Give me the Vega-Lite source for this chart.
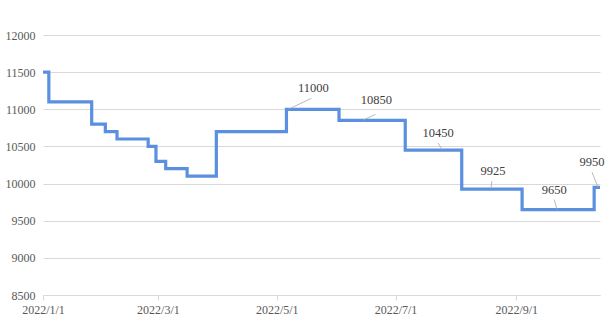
{
  "$schema": "https://vega.github.io/schema/vega-lite/v6.json",
  "width": 557,
  "height": 260,
  "autosize": "none",
  "padding": {"left": 43, "top": 35, "right": 9, "bottom": 33},
  "background": "white",
  "config": {
    "view": {"stroke": null},
    "font": "Liberation Serif",
    "text": {"font": "Liberation Serif"},
    "axis": {"labelFont": "Liberation Serif", "labelFontSize": 12, "labelColor": "#595959", "gridColor": "#d9d9d9", "domainColor": "#d9d9d9", "tickColor": "#d9d9d9", "title": null}
  },
  "datasets": {
    "price": [
      {"date": "2022-01-01", "price": 11500},
      {"date": "2022-01-04", "price": 11100},
      {"date": "2022-01-26", "price": 10800},
      {"date": "2022-02-02", "price": 10700},
      {"date": "2022-02-08", "price": 10600},
      {"date": "2022-02-24", "price": 10500},
      {"date": "2022-02-28", "price": 10300},
      {"date": "2022-03-05", "price": 10200},
      {"date": "2022-03-16", "price": 10100},
      {"date": "2022-03-31", "price": 10700},
      {"date": "2022-05-06", "price": 11000},
      {"date": "2022-06-02", "price": 10850},
      {"date": "2022-07-06", "price": 10450},
      {"date": "2022-08-04", "price": 9925},
      {"date": "2022-09-04", "price": 9650},
      {"date": "2022-10-11", "price": 9950},
      {"date": "2022-10-14", "price": 9950}
    ],
    "notes": [
      {"date": "2022-05-07", "price": 11000, "label": "11000"},
      {"date": "2022-06-14", "price": 10850, "label": "10850"},
      {"date": "2022-07-25", "price": 10450, "label": "10450"},
      {"date": "2022-08-19", "price": 9925, "label": "9925"},
      {"date": "2022-09-22", "price": 9650, "label": "9650"},
      {"date": "2022-10-13", "price": 9950, "label": "9950"}
    ]
  },
  "encoding": {
    "x": {
      "field": "date", "type": "temporal",
      "scale": {"type": "utc", "domain": [{"year": 2022, "month": 1, "date": 1, "utc": true}, {"year": 2022, "month": 10, "date": 14, "utc": true}]},
      "axis": {
        "grid": false,
        "labelExpr": "utcFormat(datum.value, '%Y/%-m/%-d')",
        "values": [
          {"year": 2022, "month": 1, "date": 1, "utc": true},
          {"year": 2022, "month": 3, "date": 1, "utc": true},
          {"year": 2022, "month": 5, "date": 1, "utc": true},
          {"year": 2022, "month": 7, "date": 1, "utc": true},
          {"year": 2022, "month": 9, "date": 1, "utc": true}
        ],
        "labelFont": "Liberation Serif", "labelFontSize": 12,
        "tickSize": 5, "labelPadding": 4, "labelFlush": false
      }
    },
    "y": {
      "field": "price", "type": "quantitative",
      "scale": {"domain": [8500, 12000], "zero": false, "nice": false},
      "axis": {"values": [8500, 9000, 9500, 10000, 10500, 11000, 11500, 12000], "format": "d", "labelFont": "Liberation Serif", "labelFontSize": 12, "domain": false, "ticks": false, "labelPadding": 8, "gridColor": "#d9d9d9"}
    }
  },
  "layer": [
    {"data": {"name": "price"}, "mark": {"type": "line", "interpolate": "step-after", "color": "#5B8FDF", "strokeWidth": 3.2}},
    {"data": {"name": "notes"}, "transform": [{"filter": "datum.label == '11000'"}], "layer": [
      {"mark": {"type": "rule", "color": "#a6a6a6", "strokeWidth": 0.8, "x2Offset": 23, "y2Offset": -11}, "encoding": {"x2": {"field": "date"}, "y2": {"field": "price"}}},
      {"mark": {"type": "text", "font": "Liberation Serif", "dx": 25, "dy": -21, "fontSize": 12.5, "color": "#404040"}, "encoding": {"text": {"field": "label"}}}
    ]},
    {"data": {"name": "notes"}, "transform": [{"filter": "datum.label == '10850'"}], "layer": [
      {"mark": {"type": "rule", "color": "#a6a6a6", "strokeWidth": 0.8, "x2Offset": 13, "y2Offset": -6}, "encoding": {"x2": {"field": "date"}, "y2": {"field": "price"}}},
      {"mark": {"type": "text", "font": "Liberation Serif", "dx": 14, "dy": -20, "fontSize": 12.5, "color": "#404040"}, "encoding": {"text": {"field": "label"}}}
    ]},
    {"data": {"name": "notes"}, "transform": [{"filter": "datum.label == '10450'"}], "layer": [
      {"mark": {"type": "rule", "color": "#a6a6a6", "strokeWidth": 0.8, "x2Offset": -4, "y2Offset": -7}, "encoding": {"x2": {"field": "date"}, "y2": {"field": "price"}}},
      {"mark": {"type": "text", "font": "Liberation Serif", "dx": -4, "dy": -17, "fontSize": 12.5, "color": "#404040"}, "encoding": {"text": {"field": "label"}}}
    ]},
    {"data": {"name": "notes"}, "transform": [{"filter": "datum.label == '9925'"}], "layer": [
      {"mark": {"type": "rule", "color": "#a6a6a6", "strokeWidth": 0.8, "x2Offset": 1, "y2Offset": -8}, "encoding": {"x2": {"field": "date"}, "y2": {"field": "price"}}},
      {"mark": {"type": "text", "font": "Liberation Serif", "dx": 2, "dy": -18, "fontSize": 12.5, "color": "#404040"}, "encoding": {"text": {"field": "label"}}}
    ]},
    {"data": {"name": "notes"}, "transform": [{"filter": "datum.label == '9650'"}], "layer": [
      {"mark": {"type": "rule", "color": "#a6a6a6", "strokeWidth": 0.8, "x2Offset": -3, "y2Offset": -10}, "encoding": {"x2": {"field": "date"}, "y2": {"field": "price"}}},
      {"mark": {"type": "text", "font": "Liberation Serif", "dx": -3, "dy": -20, "fontSize": 12.5, "color": "#404040"}, "encoding": {"text": {"field": "label"}}}
    ]},
    {"data": {"name": "notes"}, "transform": [{"filter": "datum.label == '9950'"}], "layer": [
      {"mark": {"type": "rule", "color": "#a6a6a6", "strokeWidth": 0.8, "x2Offset": -6, "y2Offset": -15}, "encoding": {"x2": {"field": "date"}, "y2": {"field": "price"}}},
      {"mark": {"type": "text", "font": "Liberation Serif", "dx": -6, "dy": -25, "fontSize": 12.5, "color": "#404040"}, "encoding": {"text": {"field": "label"}}}
    ]}
  ]
}
